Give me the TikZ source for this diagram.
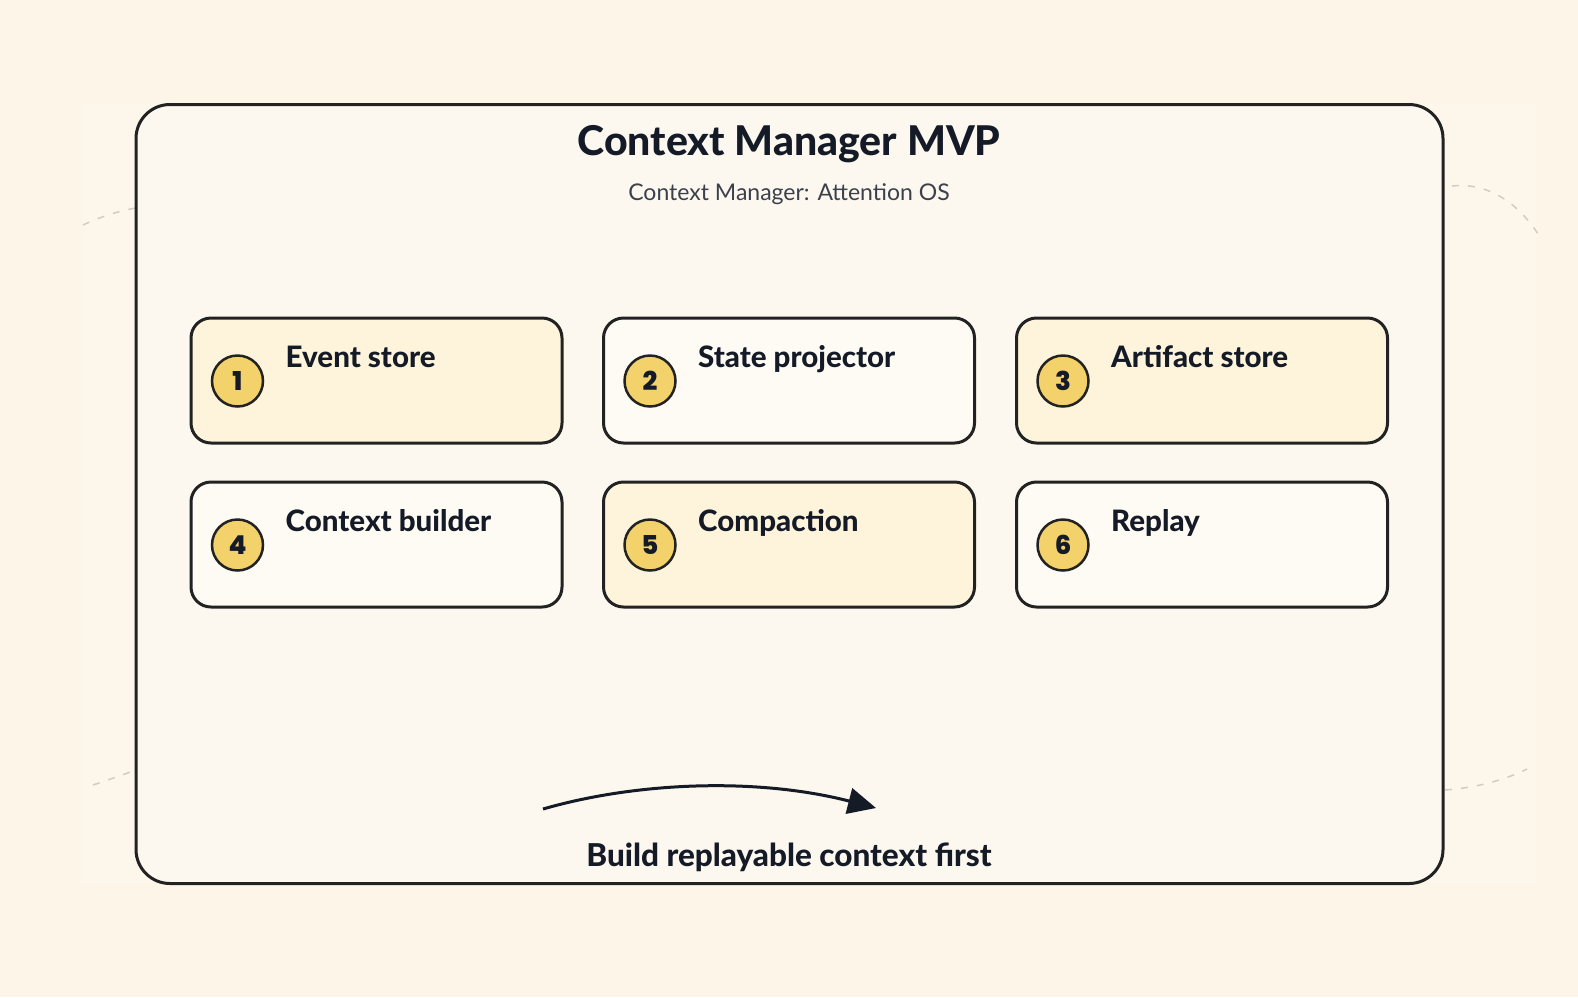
\documentclass[tikz,border=0pt]{standalone}
\usepackage{fontspec}
\setmainfont{Lato}[BoldFont={Lato Heavy}]
\newfontfamily\numfont{Poppins}[BoldFont={Poppins ExtraBold}]
\usetikzlibrary{arrows.meta}
\definecolor{bgc}{HTML}{FCF5E8}
\definecolor{innerc}{HTML}{FCF8EF}
\definecolor{ink}{HTML}{141A26}
\definecolor{edge}{HTML}{222222}
\definecolor{yelbox}{HTML}{FDF4DB}
\definecolor{whtbox}{HTML}{FEFBF4}
\definecolor{badge}{HTML}{F3D16B}
\definecolor{subc}{HTML}{3B404B}
\definecolor{dashc}{HTML}{D2CCC2}
\tikzset{
  card/.style={draw=edge, line width=3pt, rounded corners=20pt, minimum width=371pt, minimum height=125pt, inner sep=0pt},
  ycard/.style={card, fill=yelbox},
  wcard/.style={card, fill=whtbox},
  numbadge/.style={circle, draw=edge, line width=2.5pt, fill=badge, minimum size=51pt, inner sep=0pt, font=\numfont\bfseries\fontsize{26}{26}\selectfont, text=ink},
  cardlabel/.style={anchor=base west, inner sep=0pt, font=\bfseries\fontsize{29.5}{29.5}\selectfont, text=ink},
  faint/.style={draw=dashc, line width=1.5pt, dash pattern=on 7pt off 9pt},
}
\begin{document}
\begin{tikzpicture}[x=1pt,y=-1pt]
\fill[bgc] (0,0) rectangle (1578,997);
\useasboundingbox (0,0) rectangle (1578,997);
\fill[color=innerc!40!bgc] (83,104) rectangle (1537,883);
% faint dashed arcs
\coordinate (dl1) at (83,225);
\coordinate (dl2) at (136,208);
\coordinate (dr1) at (1452,186);
\coordinate (dr2) at (1540,237);
\coordinate (bl1) at (93,785);
\coordinate (bl2) at (136,770);
\coordinate (br1) at (1445,790);
\coordinate (br2) at (1527,769);
\draw[faint] (dl1) .. controls (100,217) and (118,211) .. (dl2);
\draw[faint] (dr1) .. controls (1490,182) and (1520,205) .. (dr2);
\draw[faint] (bl1) .. controls (108,780) and (122,775) .. (bl2);
\draw[faint] (br1) .. controls (1475,788) and (1505,780) .. (br2);
% frame
\node[draw=edge, line width=3pt, fill=innerc, rounded corners=34pt, minimum width=1307pt, minimum height=779pt, inner sep=0pt] (frame) at (789.5,494) {};
\node[anchor=base, inner sep=0pt, font=\bfseries\fontsize{41}{41}\selectfont, text=ink] (title) at (789,155) {Context Manager MVP};
\node[anchor=base, inner sep=0pt, font=\fontsize{23}{23}\selectfont, text=subc] (subtitle) at (789,200) {Context Manager: Attention OS};
% cards
\node[ycard] (c1) at (376.5,380.5) {};
\node[wcard] (c2) at (789,380.5) {};
\node[ycard] (c3) at (1202,380.5) {};
\node[wcard] (c4) at (376.5,544.5) {};
\node[ycard] (c5) at (789,544.5) {};
\node[wcard] (c6) at (1202,544.5) {};
\foreach \c/\n/\t in {c1/1/Event store, c2/2/State projector, c3/3/Artifact store, c4/4/Context builder, c5/5/Compaction, c6/6/Replay}{
  \node[numbadge] (b\n) at ([xshift=48pt,yshift=-0.5pt]\c.west) {\n};
  \node[cardlabel] (l\n) at ([xshift=96pt,yshift=13.5pt]\c.west) {\t};
}
% bottom arrow
\coordinate (as) at (543,809);
\coordinate (ae) at (876,808);
\draw[draw=ink, line width=3pt, -{Triangle[length=28pt,width=26pt]}] (as) .. controls (640,781) and (760,778) .. (ae);
\node[anchor=base, inner sep=0pt, font=\bfseries\fontsize{31.5}{31.5}\selectfont, text=ink] (foot) at (789,866) {Build replayable context first};
\end{tikzpicture}
\end{document}
